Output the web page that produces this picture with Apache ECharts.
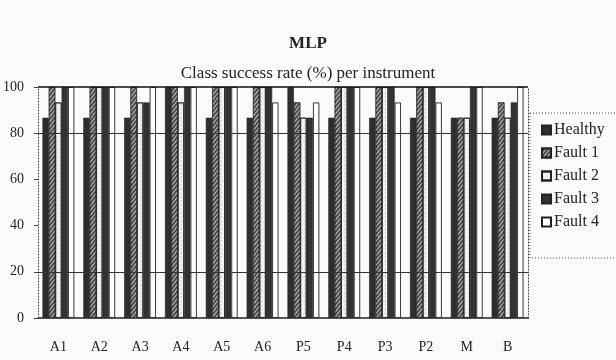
<!DOCTYPE html>
<html>
<head>
<meta charset="utf-8">
<script src="https://cdn.jsdelivr.net/npm/echarts@6/dist/echarts.min.js"></script>
<style>
  html, body { margin: 0; padding: 0; background: #fbfbf9; }
  #chart { width: 616px; height: 360px; }
</style>
</head>
<body>
<div id="chart"></div>
<script>
// class success rate (%) per instrument
const INSTRUMENTS = ['A1', 'A2', 'A3', 'A4', 'A5', 'A6', 'P5', 'P4', 'P3', 'P2', 'M', 'B'];
const HEALTHY = [86.7, 86.7, 86.7, 100, 86.7, 86.7, 100, 86.7, 86.7, 86.7, 86.7, 86.7];
const FAULT1  = [100, 100, 100, 100, 100, 100, 93.3, 100, 100, 100, 86.7, 93.3];
const FAULT2  = [93.3, 100, 93.3, 93.3, 100, 100, 86.7, 100, 100, 100, 86.7, 86.7];
const FAULT3  = [100, 100, 93.3, 100, 100, 100, 86.7, 100, 100, 100, 100, 93.3];
const FAULT4  = [100, 100, 100, 100, 100, 93.3, 93.3, 100, 93.3, 93.3, 100, 100];
// only these gridlines survive in the scan
const GRID_LINES = [20, 80];

const SERIF = '"Liberation Serif", "DejaVu Serif", serif';
const INK = '#222';

const STYLES = {
  Healthy: { color: '#2e2e2e', borderColor: INK, borderWidth: 0.6 },
  'Fault 1': {
    color: '#4a4a4a', borderColor: INK, borderWidth: 0.6,
    decal: { symbol: 'rect', dashArrayX: [1, 0], dashArrayY: [1, 2], rotation: -0.9, color: 'rgba(235,235,235,0.75)' },
  },
  'Fault 2': {
    color: '#f3f3f3', borderColor: INK, borderWidth: 0.8,
    decal: { symbol: 'circle', symbolSize: 0.6, dashArrayX: [2, 2], dashArrayY: [2, 2], color: '#9a9a9a' },
  },
  'Fault 3': { color: '#333', borderColor: INK, borderWidth: 0.6 },
  'Fault 4': { color: '#fff', borderColor: INK, borderWidth: 0.9 },
};

const SERIES = [
  ['Healthy', HEALTHY], ['Fault 1', FAULT1], ['Fault 2', FAULT2], ['Fault 3', FAULT3], ['Fault 4', FAULT4],
];

const chart = echarts.init(document.getElementById('chart'));
chart.setOption({
  backgroundColor: '#fbfbf9',
  animation: false,
  title: [
    { text: 'MLP', left: 'center', top: 30, textStyle: { fontFamily: SERIF, fontSize: 17, fontWeight: 'bold', color: INK } },
    { text: 'Class success rate (%) per instrument', left: 'center', top: 60,
      textStyle: { fontFamily: SERIF, fontSize: 17, fontWeight: 'normal', color: INK } },
  ],
  grid: { left: 38, right: 88, top: 87, bottom: 42 },
  legend: {
    orient: 'vertical',
    left: 536, top: 117,
    icon: 'rect',
    itemWidth: 9, itemHeight: 9, itemGap: 7,
    textStyle: { fontFamily: SERIF, fontSize: 16, color: INK, padding: [0, 0, 0, -2] },
    data: SERIES.map(s => s[0]),
  },
  graphic: [{
    type: 'rect',
    shape: { x: 530, y: 113, width: 100, height: 145 },
    style: { fill: 'none', stroke: '#555', lineWidth: 1, lineDash: [1, 2] },
    silent: true,
  }],
  xAxis: {
    type: 'category',
    data: INSTRUMENTS,
    axisLine: { lineStyle: { color: INK, width: 1.5 } },
    axisTick: { show: false },
    axisLabel: { fontFamily: SERIF, fontSize: 14, color: INK, margin: 22 },
  },
  yAxis: [{
    type: 'value',
    min: 0, max: 100, interval: 20,
    axisLine: { show: true, lineStyle: { color: '#444', type: [1, 2] } },
    axisTick: { show: true, length: 4, lineStyle: { color: '#444' } },
    axisLabel: { fontFamily: SERIF, fontSize: 14, color: INK, margin: 14 },
    splitLine: { show: false },
  }, {
    type: 'value',
    position: 'right',
    min: 0, max: 100, interval: 20,
    axisLine: { show: true, lineStyle: { color: '#444', type: [1, 2] } },
    axisTick: { show: false },
    axisLabel: { show: false },
    splitLine: { show: false },
  }],
  series: [
    // gridlines and the solid top border, kept behind the bars
    {
      type: 'line',
      data: [],
      z: 1,
      silent: true,
      markLine: {
        silent: true,
        symbol: 'none',
        label: { show: false },
        data: [
          ...GRID_LINES.map(v => ({ yAxis: v, lineStyle: { color: '#333', width: 1, type: 'solid' } })),
          { yAxis: 100, lineStyle: { color: '#111', width: 1.5, type: 'solid' } },
        ],
      },
    },
    ...SERIES.map(([name, values]) => ({
      name,
      type: 'bar',
      data: values,
      barGap: '0%',
      barCategoryGap: '22%',
      z: 2,
      itemStyle: STYLES[name],
      emphasis: { disabled: true },
    })),
  ],
});
</script>
</body>
</html>
